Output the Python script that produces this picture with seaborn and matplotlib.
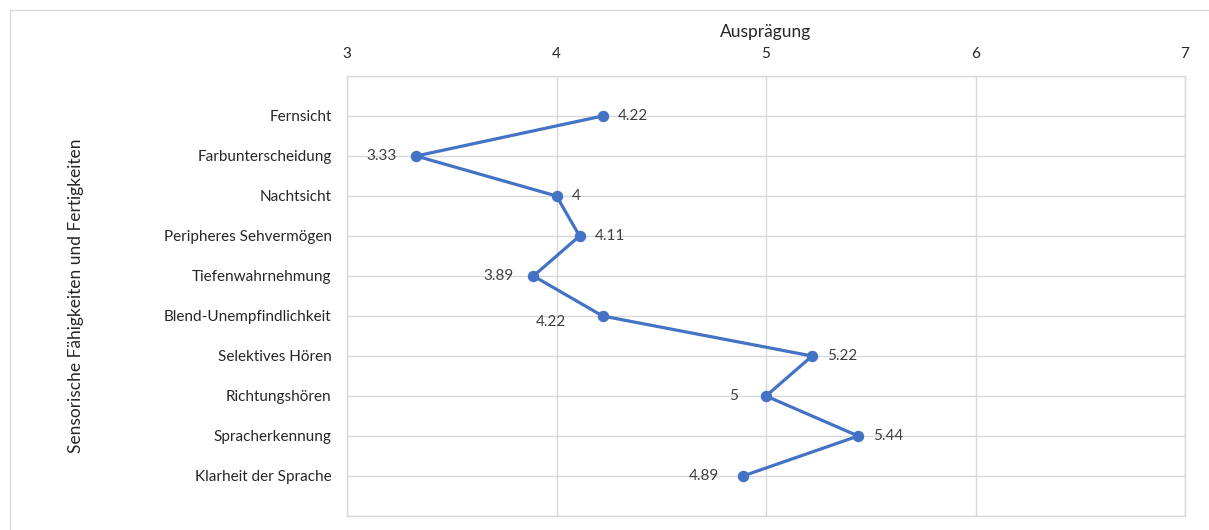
import matplotlib
matplotlib.use("Agg")
import matplotlib.pyplot as plt
import seaborn as sns
import pandas as pd
from matplotlib.lines import Line2D

categories = ["Fernsicht", "Farbunterscheidung", "Nachtsicht", "Peripheres Sehvermögen",
              "Tiefenwahrnehmung", "Blend-Unempfindlichkeit", "Selektives Hören",
              "Richtungshören", "Spracherkennung", "Klarheit der Sprache"]
values = [4.22, 3.33, 4.0, 4.11, 3.89, 4.22, 5.22, 5.0, 5.44, 4.89]
value_labels = ["4.22", "3.33", "4", "4.11", "3.89", "4.22", "5.22", "5", "5.44", "4.89"]
x_ticks = [3, 4, 5, 6, 7]
x_title = "Ausprägung"
y_title = "Sensorische Fähigkeiten und Fertigkeiten"

# label placement (pixel offsets from the point)
label_offsets = [(15, 0, "left"), (-20, 0, "right"), (15, 0, "left"), (15, 0, "left"),
                 (-20, 0, "right"), (-37, -6, "right"), (15, 0, "left"), (-28, 0, "right"),
                 (15, 0, "left"), (-24, 0, "right")]

sns.set_theme(style="white")
plt.rcParams["font.family"] = ["Lato", "DejaVu Sans"]

line_color = "#4472C4"
grid_color = "#d9d9d9"
text_color = "#404040"

fig = plt.figure(figsize=(12.09, 5.30), dpi=100)
ax = fig.add_axes([347/1209, 1-516/530, (1185-347)/1209, (516-76)/530])

df = pd.DataFrame({"cat": categories, "val": values})
sns.pointplot(data=df, x="val", y="cat", orient="h", color=line_color,
              markers="o", markersize=6.5, linewidth=2.3, ax=ax, errorbar=None)

ax.set_xlim(3, 7)
ax.set_ylim(10, -1)
ax.set_xticks(x_ticks)
ax.set_xticklabels([str(t) for t in x_ticks])
ax.set_yticks(range(-1, 11), minor=True)
ax.xaxis.tick_top()
ax.xaxis.set_label_position("top")
ax.tick_params(axis="x", which="both", length=0, pad=11, labelsize=11, labelcolor="#262626")
ax.tick_params(axis="y", which="both", length=0, pad=11, labelsize=11, labelcolor="#262626")
ax.grid(True, axis="x", color=grid_color, linewidth=1)
ax.grid(True, axis="y", which="minor", color=grid_color, linewidth=1)
ax.grid(True, axis="y", which="major", color=grid_color, linewidth=1)
for s in ax.spines.values():
    s.set_color(grid_color)
    s.set_linewidth(1)

ax.set_xlabel(x_title, fontsize=12.5, color="#262626")
ax.set_ylabel(y_title, fontsize=12.5, color="#262626")
ax.yaxis.set_label_coords(-(347-84)/(1185-347), 0.5)
ax.xaxis.set_label_coords(0.5, 1 + (76-37)/440)

for i, (v, lab) in enumerate(zip(values, value_labels)):
    dx, dy, ha = label_offsets[i]
    ax.annotate(lab, (v, i), xytext=(dx, dy), textcoords="offset pixels",
                ha=ha, va="center", fontsize=11, color=text_color)

# outer chart border (top and left visible)
fig.add_artist(Line2D([10/1209, 1], [1-10/530, 1-10/530], color=grid_color, linewidth=1, transform=fig.transFigure))
fig.add_artist(Line2D([10/1209, 10/1209], [0, 1-10/530], color=grid_color, linewidth=1, transform=fig.transFigure))

fig.savefig("out.png", dpi=100)
